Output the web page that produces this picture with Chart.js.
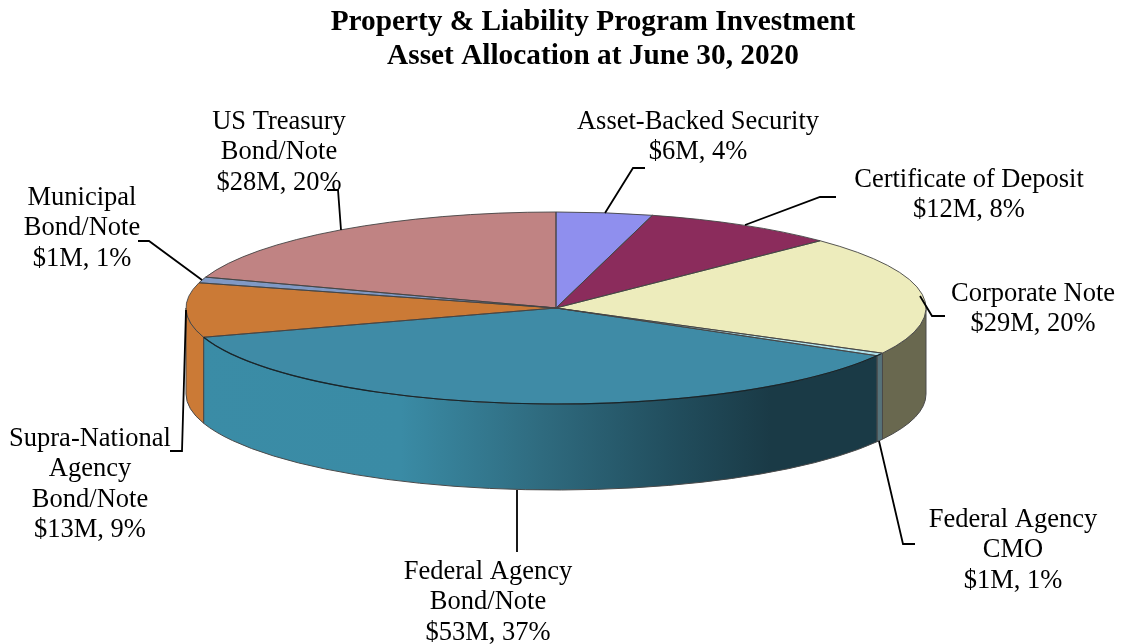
<!DOCTYPE html>
<html>
<head>
<meta charset="utf-8">
<style>html,body{margin:0;padding:0;background:#fff}#wrap{width:1121px;height:644px}</style>
<script src="https://cdn.jsdelivr.net/npm/chart.js@4/dist/chart.umd.min.js"></script>
</head>
<body>
<div id="wrap"><canvas id="c" width="1121" height="644"></canvas></div>
<script>
const titleLines = ["Property & Liability Program Investment", "Asset Allocation at June 30, 2020"];
const categories = ["Asset-Backed Security", "Certificate of Deposit", "Corporate Note", "Federal Agency CMO", "Federal Agency Bond/Note", "Supra-National Agency Bond/Note", "Municipal Bond/Note", "US Treasury Bond/Note"];
const values = [6.0, 12.1, 28.8, 0.7, 52.6, 13.1, 1.4, 28.3];
const valueLabels = ["$6M, 4%", "$12M, 8%", "$29M, 20%", "$1M, 1%", "$53M, 37%", "$13M, 9%", "$1M, 1%", "$28M, 20%"];
const nameLines = [["Asset-Backed Security"], ["Certificate of Deposit"], ["Corporate Note"], ["Federal Agency", "CMO"], ["Federal Agency", "Bond/Note"], ["Supra-National", "Agency", "Bond/Note"], ["Municipal", "Bond/Note"], ["US Treasury", "Bond/Note"]];

const topColors = ["#8f8fee", "#8b2c5c", "#edecbc", "#aee0ea", "#3f8ba6", "#cb7a36", "#8099c4", "#c08383"];
const wallColors = ["#8f8fee", "#8b2c5c", "#69684f", "#56727a", "teal", "#cb7a36", "#8099c4", "#c08383"];
const labelCenters = [[698,122],[969,180],[1033,294],[1013,520],[488,572],[90,439],[82,198],[279,122]];
const leaders = [
  [[605,213],[633,168],[645,168]],
  [[745,225],[820,197],[836,197]],
  [[920,296],[932,316],[945,316]],
  [[879,441],[903,544],[915,544]],
  [[517,490],[517,552]],
  [[186,310],[182,451],[170,451]],
  [[202,280],[149,241],[138,241]],
  [[341,230],[338,190],[327,190]]
];
const RX = 370, SQUASH = 96/370, DEPTH = 86;

const pie3d = {
  id: 'pie3d',
  afterLayout(chart) { chart.titleBlock.left += 74; },
  beforeDatasetsDraw(chart) {
    const ctx = chart.ctx, arcs = chart.getDatasetMeta(0).data;
    const cx = arcs[0].x, cy = arcs[0].y, rx = arcs[0].outerRadius, ry = rx * SQUASH;
    const teal = ctx.createLinearGradient(cx - rx, 0, cx + rx, 0);
    teal.addColorStop(0, '#3a8ca6');
    teal.addColorStop(0.29, '#3a8ba5');
    teal.addColorStop(0.48, '#2f6b7f');
    teal.addColorStop(0.65, '#224f5f');
    teal.addColorStop(0.79, '#1a3a46');
    teal.addColorStop(1, '#1a3a46');
    arcs.forEach((a, i) => {
      const s = a.startAngle, e = a.endAngle;
      const parts = [];
      for (const k of [-2, 0, 2]) {
        const lo = Math.max(s, k * Math.PI), hi = Math.min(e, k * Math.PI + Math.PI);
        if (hi > lo) parts.push([lo, hi]);
      }
      parts.forEach(([lo, hi]) => {
        ctx.beginPath();
        ctx.ellipse(cx, cy, rx, ry, 0, lo, hi);
        ctx.ellipse(cx, cy + DEPTH, rx, ry, 0, hi, lo, true);
        ctx.closePath();
        ctx.fillStyle = wallColors[i] === 'teal' ? teal : wallColors[i];
        ctx.fill();
        ctx.lineWidth = 1;
        ctx.strokeStyle = '#4a4a4a';
        ctx.stroke();
      });
    });
    ctx.save();
    ctx.translate(cx, cy);
    ctx.scale(1, SQUASH);
    ctx.translate(-cx, -cy);
  },
  afterDatasetsDraw(chart) {
    const ctx = chart.ctx, arcs = chart.getDatasetMeta(0).data;
    ctx.restore();
    const cx = arcs[0].x, cy = arcs[0].y, rx = arcs[0].outerRadius, ry = rx * SQUASH;
    arcs.forEach(a => {
      ctx.beginPath();
      ctx.moveTo(cx, cy);
      ctx.ellipse(cx, cy, rx, ry, 0, a.startAngle, a.endAngle);
      ctx.closePath();
      ctx.lineWidth = 0.9;
      ctx.strokeStyle = '#444';
      ctx.stroke();
    });
    ctx.beginPath();
    ctx.ellipse(cx, cy, rx, ry, 0, 0.5, Math.PI - 0.31);
    ctx.lineWidth = 1.2;
    ctx.strokeStyle = '#16262c';
    ctx.stroke();
  },
  afterDraw(chart) {
    const ctx = chart.ctx;
    ctx.save();
    ctx.lineWidth = 1.8;
    ctx.strokeStyle = '#000';
    ctx.lineJoin = 'miter';
    leaders.forEach(pts => {
      ctx.beginPath();
      pts.forEach((p, i) => i ? ctx.lineTo(p[0], p[1]) : ctx.moveTo(p[0], p[1]));
      ctx.stroke();
    });
    ctx.fillStyle = '#000';
    ctx.font = '26.5px "Liberation Serif"';
    ctx.textAlign = 'center';
    ctx.textBaseline = 'middle';
    categories.forEach((name, i) => {
      const lines = nameLines[i].concat([valueLabels[i]]);
      lines.forEach((t, j) => ctx.fillText(t, labelCenters[i][0], labelCenters[i][1] + j * 30.3));
    });
    ctx.restore();
  }
};

new Chart(document.getElementById('c'), {
  type: 'pie',
  data: {
    labels: categories,
    datasets: [{ data: values, backgroundColor: topColors, borderWidth: 0, radius: RX, clip: false }]
  },
  options: {
    responsive: false,
    animation: false,
    events: [],
    layout: { padding: { right: 9, bottom: 106 } },
    plugins: {
      legend: { display: false },
      tooltip: { enabled: false },
      title: {
        display: true,
        text: titleLines,
        color: '#000',
        font: { family: '"Liberation Serif"', size: 29.3, weight: 'bold', lineHeight: 1.16 },
        padding: { top: 5, bottom: 5 }
      }
    }
  },
  plugins: [pie3d]
});
</script>
</body>
</html>
